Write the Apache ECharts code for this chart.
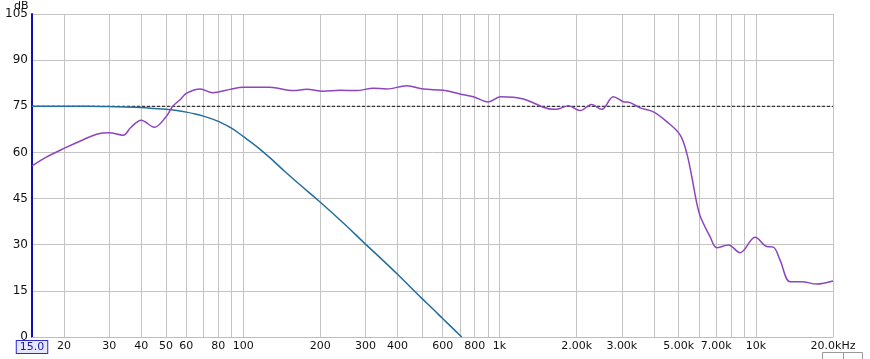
<!DOCTYPE html>
<html>
<head>
<meta charset="utf-8">
<script src="https://cdn.jsdelivr.net/npm/echarts@6/dist/echarts.min.js"></script>
<style>
  html, body { margin: 0; padding: 0; background: #fff; }
  #chart { width: 870px; height: 359px; }
</style>
</head>
<body>
<div id="chart"></div>
<script>
// measured response (purple)
const measFreq = [15, 17, 20, 24, 27, 30, 34, 36.5, 40, 45, 50, 53, 57, 60, 68, 76, 89, 100, 127, 157, 177, 205, 239, 277, 322, 363, 435, 504, 604, 701, 791, 904, 1008, 1239, 1483, 1622, 1722, 1856, 2061, 2290, 2505, 2781, 3042, 3231, 3534, 3984, 4493, 5064, 5378, 5625, 5883, 6078, 6629, 7040, 7815, 8682, 9933, 11033, 11706, 12430, 13600, 15100, 17280, 20000];
const measDb = [55.6, 58.4, 61.3, 64.3, 66.0, 66.4, 65.6, 68.2, 70.5, 68.2, 71.6, 74.9, 77.3, 79.2, 80.6, 79.4, 80.5, 81.2, 81.2, 80.1, 80.5, 79.9, 80.2, 80.1, 80.9, 80.6, 81.7, 80.6, 80.2, 79.0, 78.1, 76.4, 78.1, 77.4, 74.7, 74.0, 74.3, 75.2, 73.6, 75.6, 74.0, 78.1, 76.5, 76.2, 74.5, 73.2, 70.0, 65.7, 59.7, 52.1, 43.5, 39.1, 32.6, 29.0, 29.9, 27.4, 32.4, 29.4, 29.2, 25.0, 18.0, 18.0, 17.2, 18.2];

// filter curve (blue)
const filtFreq = [15, 20, 25, 30, 35, 40, 45, 50, 55, 60, 65, 70, 75, 80, 90, 100, 113, 127, 145, 167, 200, 250, 300, 350, 400, 450, 500, 550, 600, 650, 712];
const filtDb = [75.0, 75.0, 75.0, 74.9, 74.8, 74.6, 74.3, 74.0, 73.6, 73.1, 72.5, 71.8, 71.0, 70.1, 67.9, 65.2, 61.9, 58.3, 53.9, 49.4, 43.8, 36.5, 30.2, 25.0, 20.4, 16.2, 12.4, 9.1, 6.0, 3.2, 0];

// target level (dashed)
const targetFreq = [15, 20000];
const targetDb = [75, 75];

// axis ticks
const gridFreqs = [15, 20, 30, 40, 50, 60, 70, 80, 90, 100, 200, 300, 400, 500, 600, 700, 800, 900, 1000, 2000, 3000, 4000, 5000, 6000, 7000, 8000, 9000, 10000, 20000];
const labelFreqs = [15, 20, 30, 40, 50, 60, 80, 100, 200, 300, 400, 600, 800, 1000, 2000, 3000, 5000, 7000, 10000, 20000];
const labelText = ['15.0', '20', '30', '40', '50', '60', '80', '100', '200', '300', '400', '600', '800', '1k', '2.00k', '3.00k', '5.00k', '7.00k', '10k', '20.0kHz'];

const toPts = (fs, ds) => fs.map((f, i) => [Math.log10(f), ds[i]]);
const labelMap = {};
labelFreqs.forEach((f, i) => { labelMap[Math.round(f)] = labelText[i]; });

const font = 'DejaVu Sans';
const chart = echarts.init(document.getElementById('chart'));
chart.setOption({
  animation: false,
  textStyle: { fontFamily: font },
  grid: { left: 32, right: 37, top: 14, bottom: 22 },
  xAxis: {
    type: 'value',
    min: Math.log10(15),
    max: Math.log10(20000),
    axisLine: { show: true, lineStyle: { color: '#bdbdbd', width: 1 } },
    axisTick: { show: false, customValues: gridFreqs.map(f => Math.log10(f)) },
    splitLine: { show: true, lineStyle: { color: '#c4c4c4', width: 1 } },
    axisLabel: {
      customValues: labelFreqs.map(f => Math.log10(f)),
      interval: 0,
      margin: 4,
      fontSize: 11,
      color: '#111',
      fontFamily: font,
      formatter: v => {
        const t = labelMap[Math.round(Math.pow(10, v))] || '';
        return t === '15.0' ? '{box|15.0}' : t;
      },
      rich: {
        box: {
          fontSize: 11, fontFamily: font, color: '#1a1aa0',
          borderColor: '#2a2ad0', borderWidth: 1, backgroundColor: '#e6e6ff',
          padding: [1, 3, 0, 3]
        }
      }
    }
  },
  yAxis: {
    type: 'value',
    min: 0,
    max: 105,
    interval: 15,
    axisLine: { show: true, lineStyle: { color: '#1010b0', width: 2 } },
    axisTick: { show: false },
    splitLine: { show: true, lineStyle: { color: '#c4c4c4', width: 1 } },
    axisLabel: { fontSize: 12, color: '#111', margin: 4, fontFamily: font }
  },
  graphic: [
    { type: 'text', left: 14, top: 1, style: { text: 'dB', fontSize: 11, fontFamily: font, fill: '#111' } },
    { type: 'rect', left: 822, top: 352, shape: { width: 21, height: 10 }, style: { fill: '#fff', stroke: '#999', lineWidth: 1 } },
    { type: 'rect', left: 843, top: 352, shape: { width: 19, height: 10 }, style: { fill: '#fff', stroke: '#999', lineWidth: 1 } }
  ],
  series: [
    {
      type: 'line', data: toPts(targetFreq, targetDb), symbol: 'none',
      lineStyle: { color: '#333', width: 1.2, type: [3, 2] }, z: 3
    },
    {
      type: 'line', data: toPts(filtFreq, filtDb), symbol: 'none', smooth: 0.4,
      lineStyle: { color: '#236ea0', width: 1.5 }, z: 4
    },
    {
      type: 'line', data: toPts(measFreq, measDb), symbol: 'none', smooth: 0.35,
      lineStyle: { color: '#8d45bd', width: 1.5 }, z: 5
    }
  ]
});
</script>
</body>
</html>
